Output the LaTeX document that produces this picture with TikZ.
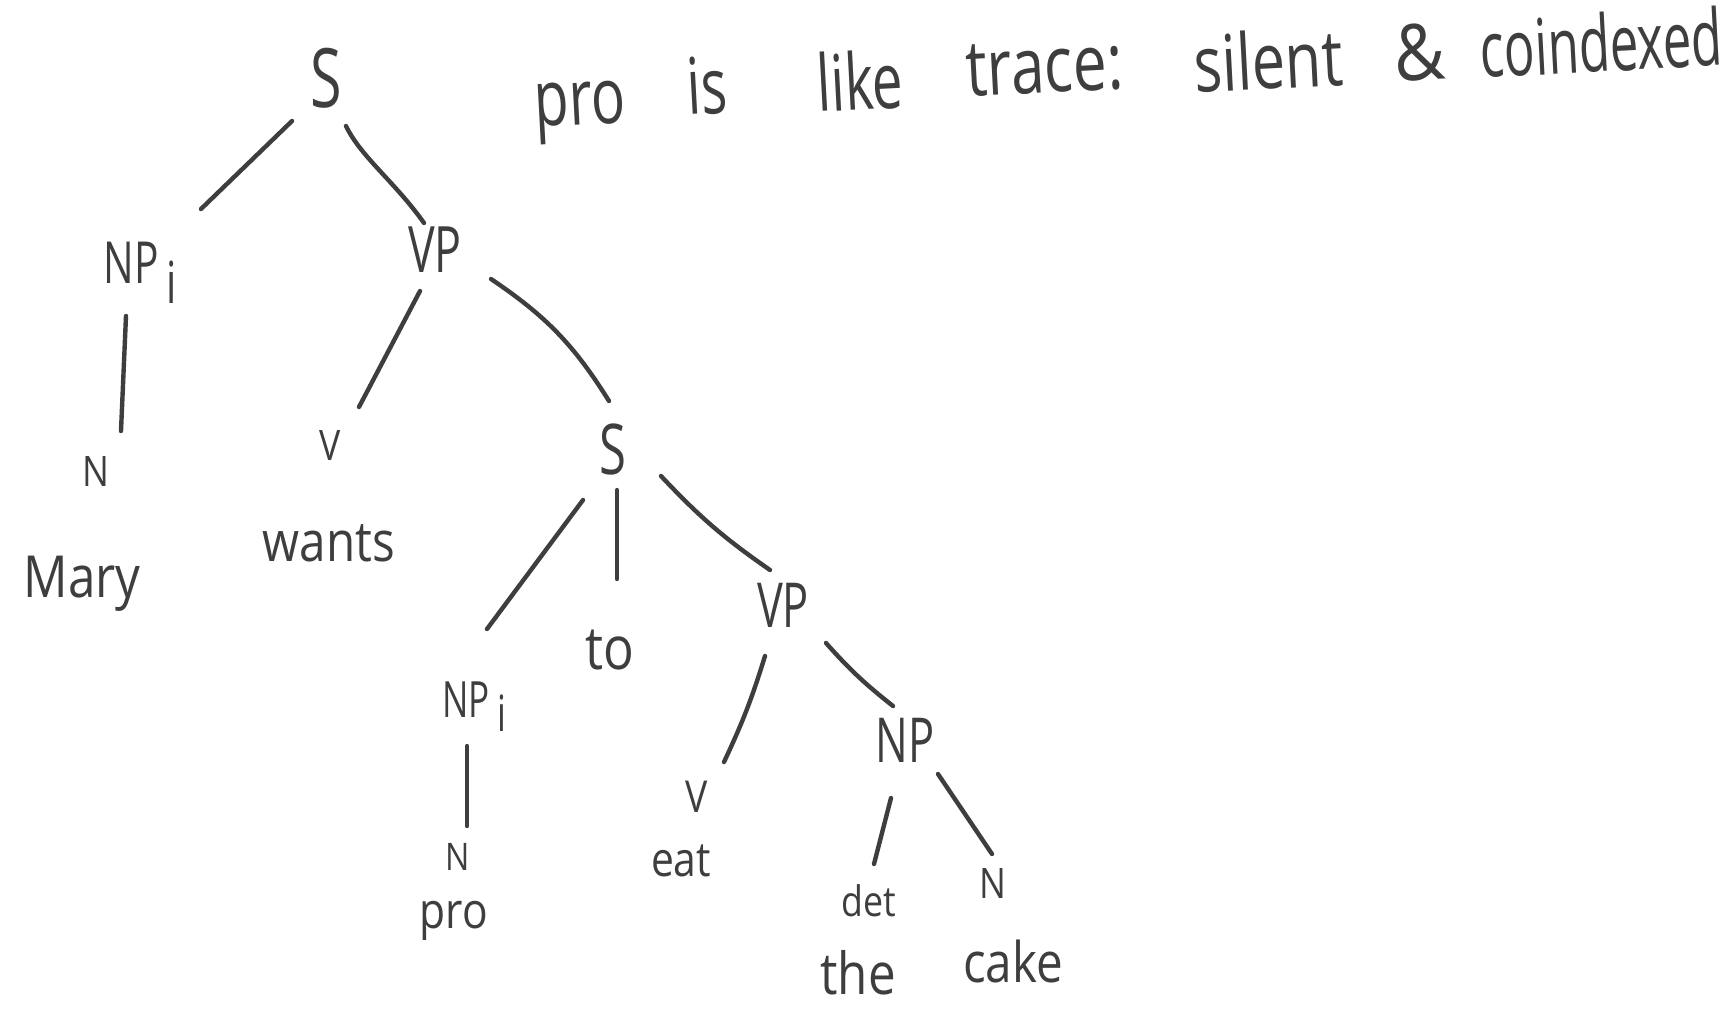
\documentclass[tikz,border=0pt]{standalone}
\usepackage{fontspec}
\usepackage{graphicx}
\newfontfamily\inkfont{Open Sans}[FakeStretch=0.85]
\newfontfamily\catfont{Open Sans}[FakeStretch=0.7]
\definecolor{ink}{RGB}{62,62,62}
% lowered co-index after a category label
\newcommand\cosub[1]{\hspace{4pt}\raisebox{-#1}{i}}
\begin{document}
\begin{tikzpicture}[x=0.5pt,y=-0.5pt,
  edge/.style={draw=ink, line width=2.2pt, line cap=round},
  phrase/.style={text=ink, inner sep=0pt, anchor=base, font=\catfont\fontsize{#1}{#1}\selectfont},
  cat/.style={text=ink, inner sep=0pt, anchor=base, font=\inkfont\fontsize{#1}{#1}\selectfont},
  word/.style={text=ink, inner sep=0pt, anchor=base, font=\inkfont\fontsize{#1}{#1}\selectfont},
  note/.style={text=ink, inner sep=0pt, anchor=base west, rotate=3, font=\inkfont\fontsize{39}{39}\selectfont}]
\fill[white] (0,0) rectangle (1731,1009);
\useasboundingbox (0,0) rectangle (1731,1009);

% ---- upper clause ----
\node[phrase=41] (s1) at (326,107) {S};
\node[phrase=29, anchor=base west] (np1) at (103,283) {NP\cosub{10pt}};
\node[phrase=32] (vp1) at (435,272) {VP};
\node[cat=21] (n1) at (96,486) {N};
\node[word=29] (mary) at (82,597) {Mary};
\node[cat=21] (v1) at (330,460) {V};
\node[word=28] (wants) at (329,561) {wants};

% ---- embedded clause ----
\node[phrase=35] (s2) at (613,474) {S};
\node[phrase=25, anchor=base west] (np2) at (442,717) {NP\cosub{7pt}};
\node[word=30] (to) at (610,669) {to};
\node[phrase=31] (vp2) at (783,627) {VP};
\node[cat=19] (n2) at (458,870) {N};
\node[word=25] (pro) at (454,928) {pro};
\node[cat=22] (v2) at (697,812) {V};
\node[word=24] (eat) at (681,876) {eat};
\node[phrase=31] (np3) at (905,762) {NP};
\node[cat=21] (det) at (869,916) {det};
\node[cat=21] (n3) at (993,898) {N};
\node[word=29] (the) at (858,994) {the};
\node[word=28] (cake) at (1013,982) {cake};

% ---- branches ----
\draw[edge] ([shift={(-34,14)}]s1.base) -- ([shift={(98,-74)}]np1.base west);
\draw[edge] ([shift={(20,19)}]s1.base) .. controls ([shift={(35,50)}]s1.base) and ([shift={(-40,-90)}]vp1.base) .. ([shift={(-11,-49)}]vp1.base);
\draw[edge] ([shift={(23,33)}]np1.base west) -- ([shift={(25,-55)}]n1.base);
\draw[edge] ([shift={(-15,19)}]vp1.base) -- ([shift={(29,-53)}]v1.base);
\draw[edge] ([shift={(56,7)}]vp1.base) to[bend left=12] ([shift={(-4,-73)}]s2.base);
\draw[edge] ([shift={(-30,26)}]s2.base) -- ([shift={(45,-88)}]np2.base west);
\draw[edge] ([shift={(4,16)}]s2.base) -- ([shift={(7,-90)}]to.base);
\draw[edge] ([shift={(48,2)}]s2.base) to[bend right=6] ([shift={(-13,-57)}]vp2.base);
\draw[edge] ([shift={(25,29)}]np2.base west) -- ([shift={(9,-44)}]n2.base);
\draw[edge] ([shift={(-18,29)}]vp2.base) to[bend left=4] ([shift={(27,-50)}]v2.base);
\draw[edge] ([shift={(43,16)}]vp2.base) to[bend right=5] ([shift={(-12,-56)}]np3.base);
\draw[edge] ([shift={(-14,36)}]np3.base) -- ([shift={(5,-52)}]det.base);
\draw[edge] ([shift={(33,12)}]np3.base) -- ([shift={(-1,-44)}]n3.base);

% ---- remark ----
\node[note] (m1) at (535,127) {\resizebox{45.5pt}{\height}{pro}};
\node[note] (m2) at (688,115) {\resizebox{20pt}{\height}{is}};
\node[note] (m3) at (818,112) {\resizebox{43pt}{\height}{like}};
\node[note] (m4) at (967,97) {\resizebox{78.5pt}{\height}{trace:}};
\node[note] (m5) at (1195,93) {\resizebox{74.5pt}{\height}{silent}};
\node[note] (m6) at (1395,82) {\resizebox{25.5pt}{\height}{\&}};
\node[note] (m7) at (1481,78) {\resizebox{121.5pt}{\height}{coindexed}};
\end{tikzpicture}
\end{document}
